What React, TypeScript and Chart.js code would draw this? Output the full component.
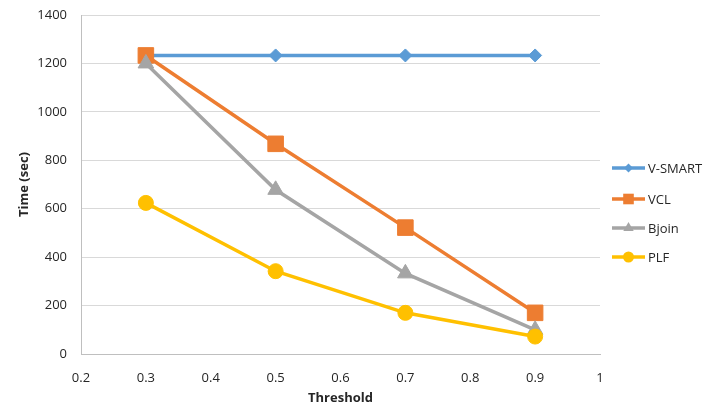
import React, { useEffect, useRef } from "react";
import { Chart, registerables } from "chart.js";

Chart.register(...registerables);

const thresholds = [0.3, 0.5, 0.7, 0.9];
const vSmart = [1233, 1233, 1233, 1233];
const vcl = [1233, 868, 522, 170];
const bjoin = [1200, 678, 333, 100];
const plf = [624, 342, 170, 72];
const seriesNames = ["V-SMART", "VCL", "Bjoin", "PLF"];
const seriesColors = ["#5B9BD5", "#ED7D31", "#A5A5A5", "#FFC000"];
const seriesMarkers = ["rectRot", "rect", "triangle", "circle"];
const markerRadius = [6.5, 11, 9, 7.5];

const FONT = "'Open Sans', 'Noto Sans', sans-serif";

function drawMarker(ctx: CanvasRenderingContext2D, style: string, x: number, y: number, r: number) {
  ctx.beginPath();
  if (style === "rectRot") {
    ctx.moveTo(x, y - r);
    ctx.lineTo(x + r, y);
    ctx.lineTo(x, y + r);
    ctx.lineTo(x - r, y);
  } else if (style === "rect") {
    const s = r * Math.SQRT1_2;
    ctx.rect(x - s, y - s, 2 * s, 2 * s);
  } else if (style === "triangle") {
    ctx.moveTo(x, y - r);
    ctx.lineTo(x + r * 0.866, y + r * 0.5);
    ctx.lineTo(x - r * 0.866, y + r * 0.5);
  } else {
    ctx.arc(x, y, r, 0, Math.PI * 2);
  }
  ctx.closePath();
  ctx.fill();
}

const legendPlugin = {
  id: "customLegend",
  afterDraw(chart: any) {
    const ctx = chart.ctx as CanvasRenderingContext2D;
    ctx.save();
    const ys = [168, 199, 228, 257];
    seriesNames.forEach((name, i) => {
      const y = ys[i];
      ctx.strokeStyle = seriesColors[i];
      ctx.fillStyle = seriesColors[i];
      ctx.lineWidth = 3.5;
      ctx.beginPath();
      ctx.moveTo(612, y);
      ctx.lineTo(645, y);
      ctx.stroke();
      const legR = [4.5, 7.5, 6, 5.5][i];
      drawMarker(ctx, seriesMarkers[i], 628.5, y, legR);
      ctx.fillStyle = "#262626";
      ctx.font = `13px ${FONT}`;
      ctx.textBaseline = "middle";
      ctx.textAlign = "left";
      ctx.fillText(name, 648, y + 1);
    });
    ctx.restore();
  },
};

export default function App() {
  const canvasRef = useRef<HTMLCanvasElement | null>(null);

  useEffect(() => {
    document.body.style.margin = "0";
    const series = [vSmart, vcl, bjoin, plf];
    const chart = new Chart(canvasRef.current!, {
      type: "line",
      data: {
        datasets: series.map((vals, i) => ({
          label: seriesNames[i],
          data: thresholds.map((t, j) => ({ x: t, y: vals[j] })),
          borderColor: seriesColors[i],
          backgroundColor: seriesColors[i],
          pointBackgroundColor: seriesColors[i],
          pointBorderColor: seriesColors[i],
          pointBorderWidth: 1,
          pointStyle: seriesMarkers[i] as any,
          pointRadius: markerRadius[i],
          borderWidth: 3.5,
          tension: 0,
          order: 4 - i,
        })),
      },
      options: {
        animation: false,
        responsive: false,
        layout: { padding: { left: 16, right: 111, top: 15, bottom: 4 } },
        plugins: {
          legend: { display: false },
          tooltip: { enabled: false },
        },
        scales: {
          x: {
            type: "linear",
            min: 0.2,
            max: 1.0,
            ticks: {
              stepSize: 0.1,
              color: "#262626",
              font: { family: FONT, size: 13 },
              padding: 16,
              callback: (v: any) => String(Math.round(Number(v) * 10) / 10),
            },
            grid: { display: false, drawTicks: false },
            border: { color: "#BFBFBF", width: 1 },
            title: {
              display: true,
              text: "Threshold",
              color: "#262626",
              font: { family: FONT, size: 13, weight: "bold" },
              padding: { top: 4, bottom: 0 },
            },
            afterFit: (s: any) => {
              s.height = 52;
              s.paddingLeft = 0;
              s.paddingRight = 0;
            },
          },
          y: {
            min: 0,
            max: 1400,
            ticks: {
              stepSize: 200,
              color: "#262626",
              font: { family: FONT, size: 13 },
              padding: 14,
              callback: (v: any) => String(v),
            },
            grid: { color: "#D9D9D9", drawTicks: false, lineWidth: 1 },
            border: { color: "#BFBFBF", width: 1 },
            title: {
              display: true,
              text: "Time (sec)",
              color: "#262626",
              font: { family: FONT, size: 13, weight: "bold" },
              padding: { top: 0, bottom: 4 },
            },
            afterFit: (s: any) => {
              s.width = 65;
              s.paddingTop = 0;
              s.paddingBottom = 0;
            },
          },
        },
      },
      plugins: [legendPlugin],
    });
    return () => chart.destroy();
  }, []);

  return (
    <div style={{ width: 711, height: 410 }}>
      <canvas ref={canvasRef} width={711} height={410} style={{ display: "block" }} />
    </div>
  );
}
